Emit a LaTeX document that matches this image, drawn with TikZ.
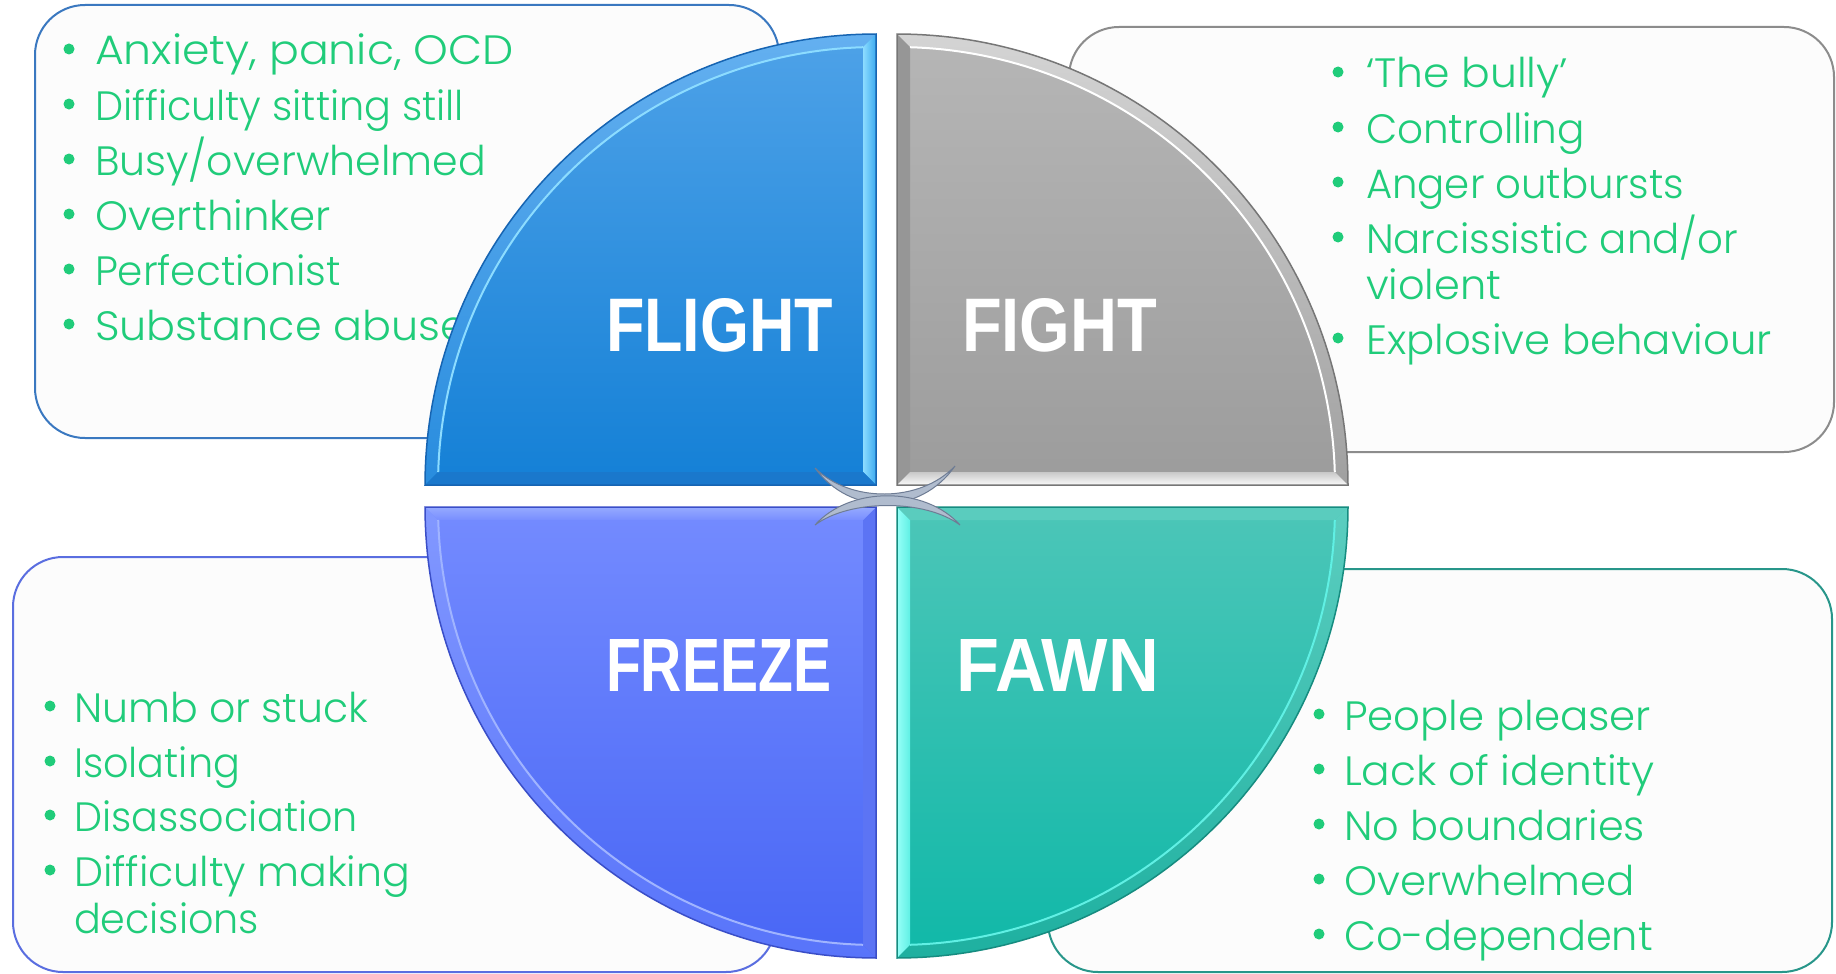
\documentclass[tikz,border=0pt]{standalone}
\usepackage{fontspec}
\usepackage{graphicx}
\setmainfont{Poppins}[UprightFont={* Light}]
\newfontfamily\titlefont{Liberation Sans}
\definecolor{txtgreen}{RGB}{32,204,122}
\definecolor{boxfill}{RGB}{252,252,252}
\definecolor{flA}{RGB}{78,162,232}
\definecolor{flB}{RGB}{20,128,214}
\definecolor{flArcA}{RGB}{100,176,240}
\definecolor{flArcB}{RGB}{40,140,222}
\definecolor{flV}{RGB}{60,170,240}
\definecolor{flH}{RGB}{26,120,204}
\definecolor{flEdge}{RGB}{22,100,178}
\definecolor{flHi}{RGB}{140,220,255}
\definecolor{flBox}{RGB}{58,120,192}
\definecolor{fiA}{RGB}{182,182,182}
\definecolor{fiB}{RGB}{156,156,156}
\definecolor{fiArcA}{RGB}{212,212,212}
\definecolor{fiArcB}{RGB}{160,160,160}
\definecolor{fiV}{RGB}{150,150,150}
\definecolor{fiHA}{RGB}{200,200,200}
\definecolor{fiHB}{RGB}{250,250,250}
\definecolor{fiEdge}{RGB}{118,118,118}
\definecolor{fiBox}{RGB}{140,140,140}
\definecolor{frA}{RGB}{116,139,255}
\definecolor{frB}{RGB}{72,102,245}
\definecolor{frArcA}{RGB}{130,152,255}
\definecolor{frArcB}{RGB}{88,116,250}
\definecolor{frV}{RGB}{92,116,244}
\definecolor{frHA}{RGB}{150,170,255}
\definecolor{frHB}{RGB}{120,142,255}
\definecolor{frHi}{RGB}{160,180,255}
\definecolor{frEdge}{RGB}{58,78,200}
\definecolor{frBox}{RGB}{90,110,224}
\definecolor{faA}{RGB}{76,198,184}
\definecolor{faB}{RGB}{16,184,168}
\definecolor{faArcA}{RGB}{92,206,192}
\definecolor{faArcB}{RGB}{30,176,160}
\definecolor{faVA}{RGB}{150,255,248}
\definecolor{faH}{RGB}{90,204,190}
\definecolor{faEdge}{RGB}{22,140,128}
\definecolor{faHi}{RGB}{96,240,228}
\definecolor{faBox}{RGB}{40,150,138}
\definecolor{knot}{RGB}{176,188,206}
\definecolor{knotEdge}{RGB}{110,124,148}
% quadrant path pieces: #1 cx, #2 cy, #3 sx, #4 sy
\newcommand\qouter[4]{(#1,#2) -- plot[domain=0:90,samples=80] ({#1+(#3)*451*cos(\x)},{#2+(#4)*451*sin(\x)}) -- cycle}
\newcommand\qhband[4]{(#1,#2) -- ({#1+(#3)*451},#2) -- ({#1+(#3)*437.8},{#2+(#4)*13}) -- ({#1+(#3)*13},{#2+(#4)*13}) -- cycle}
\newcommand\qvband[4]{(#1,#2) -- (#1,{#2+(#4)*451}) -- ({#1+(#3)*13},{#2+(#4)*437.8}) -- ({#1+(#3)*13},{#2+(#4)*13}) -- cycle}
\newcommand\qaband[4]{plot[domain=0:90,samples=80] ({#1+(#3)*451*cos(\x)},{#2+(#4)*451*sin(\x)}) -- plot[domain=88.3:1.7,samples=80] ({#1+(#3)*438*cos(\x)},{#2+(#4)*438*sin(\x)}) -- cycle}
\newcommand\qinarc[4]{plot[domain=1.7:88.3,samples=80] ({#1+(#3)*438*cos(\x)},{#2+(#4)*438*sin(\x)})}
\begin{document}
\begin{tikzpicture}[x=1pt,y=-1pt,
  textbox/.style={rounded corners=50pt, line width=2pt, fill=boxfill},
  lst/.style={inner sep=0pt, outer sep=0pt, text=txtgreen, font=\fontsize{41}{41}\selectfont},
  ttl/.style={inner sep=0pt, outer sep=0pt, text=white, font=\titlefont\bfseries},
  dot/.style={fill=txtgreen}]
\useasboundingbox (0,0) rectangle (1836,974);
\fill[white] (0,0) rectangle (1836,974);

% text boxes
\draw[textbox, draw=flBox] (35,5) rectangle (779,438);
\draw[textbox, draw=fiBox] (1069,27) rectangle (1834,452);
\draw[textbox, draw=frBox] (13,557) rectangle (776,972);
\draw[textbox, draw=faBox] (1048,569) rectangle (1832,972);

% FLIGHT list
\foreach \yy in {65,120,175,230,285,340} \fill[dot] (69,\yy-16) circle[radius=5.5pt];
\node[lst, anchor=base west] (fl1) at (95,65) {\resizebox{419pt}{\height}{Anxiety, panic, OCD}};
\node[lst, anchor=base west] (fl2) at (95,120) {\resizebox{369pt}{\height}{Difficulty sitting still}};
\node[lst, anchor=base west] (fl3) at (95,175) {\resizebox{391pt}{\height}{Busy/overwhelmed}};
\node[lst, anchor=base west] (fl4) at (95,230) {\resizebox{236pt}{\height}{Overthinker}};
\node[lst, anchor=base west] (fl5) at (95,285) {\resizebox{246pt}{\height}{Perfectionist}};
\node[lst, anchor=base west] (fl6) at (95,340) {\resizebox{372pt}{\height}{Substance abuse}};

% FIGHT list
\foreach \yy in {88,143,198,253,354} \fill[dot] (1338,\yy-16) circle[radius=5.5pt];
\node[lst, anchor=base west] (fi1) at (1366,88) {\resizebox{202pt}{\height}{‘The bully’}};
\node[lst, anchor=base west] (fi2) at (1366,143) {\resizebox{219pt}{\height}{Controlling}};
\node[lst, anchor=base west] (fi3) at (1366,198) {\resizebox{318pt}{\height}{Anger outbursts}};
\node[lst, anchor=base west] (fi4) at (1366,253) {\resizebox{372pt}{\height}{Narcissistic and/or}};
\node[lst, anchor=base west] (fi5) at (1366,299) {\resizebox{135pt}{\height}{violent}};
\node[lst, anchor=base west] (fi6) at (1366,354) {\resizebox{406pt}{\height}{Explosive behaviour}};

% FREEZE list
\foreach \yy in {722,777,831,886} \fill[dot] (50,\yy-16) circle[radius=5.5pt];
\node[lst, anchor=base west] (fr1) at (74,722) {\resizebox{294pt}{\height}{Numb or stuck}};
\node[lst, anchor=base west] (fr2) at (74,777) {\resizebox{166pt}{\height}{Isolating}};
\node[lst, anchor=base west] (fr3) at (74,831) {\resizebox{284pt}{\height}{Disassociation}};
\node[lst, anchor=base west] (fr4) at (74,886) {\resizebox{336pt}{\height}{Difficulty making}};
\node[lst, anchor=base west] (fr5) at (74,933) {\resizebox{185pt}{\height}{decisions}};

% FAWN list
\foreach \yy in {730,785,840,895,950} \fill[dot] (1319,\yy-16) circle[radius=5.5pt];
\node[lst, anchor=base west] (fa1) at (1344,730) {\resizebox{307pt}{\height}{People pleaser}};
\node[lst, anchor=base west] (fa2) at (1344,785) {\resizebox{311pt}{\height}{Lack of identity}};
\node[lst, anchor=base west] (fa3) at (1344,840) {\resizebox{301pt}{\height}{No boundaries}};
\node[lst, anchor=base west] (fa4) at (1344,895) {\resizebox{291pt}{\height}{Overwhelmed}};
\node[lst, anchor=base west] (fa5) at (1344,950) {\resizebox{309pt}{\height}{Co-dependent}};

% ---- FLIGHT quadrant
\shade[top color=flA, bottom color=flB] \qouter{876}{485}{-1}{-1};
\shade[top color=flArcA, bottom color=flArcB] \qaband{876}{485}{-1}{-1};
\shade[left color=flHi, right color=flV] \qvband{876}{485}{-1}{-1};
\fill[flH] \qhband{876}{485}{-1}{-1};
\draw[flHi, line width=2pt] \qinarc{876}{485}{-1}{-1};
\draw[flEdge, line width=1.5pt] \qouter{876}{485}{-1}{-1};

% ---- FIGHT quadrant
\shade[top color=fiA, bottom color=fiB] \qouter{897}{485}{1}{-1};
\shade[top color=fiArcA, bottom color=fiArcB] \qaband{897}{485}{1}{-1};
\fill[fiV] \qvband{897}{485}{1}{-1};
\shade[top color=fiHA, bottom color=fiHB] \qhband{897}{485}{1}{-1};
\draw[white, line width=2pt] \qinarc{897}{485}{1}{-1};
\draw[fiEdge, line width=1.5pt] \qouter{897}{485}{1}{-1};

% ---- FREEZE quadrant
\shade[top color=frA, bottom color=frB] \qouter{876}{507}{-1}{1};
\shade[top color=frArcA, bottom color=frArcB] \qaband{876}{507}{-1}{1};
\fill[frV] \qvband{876}{507}{-1}{1};
\shade[top color=frHA, bottom color=frHB] \qhband{876}{507}{-1}{1};
\draw[frHi, line width=2pt] \qinarc{876}{507}{-1}{1};
\draw[frEdge, line width=1.5pt] \qouter{876}{507}{-1}{1};

% ---- FAWN quadrant
\shade[top color=faA, bottom color=faB] \qouter{897}{507}{1}{1};
\shade[top color=faArcA, bottom color=faArcB] \qaband{897}{507}{1}{1};
\shade[left color=faVA, right color=faHi] \qvband{897}{507}{1}{1};
\fill[faH] \qhband{897}{507}{1}{1};
\draw[faHi, line width=2pt] \qinarc{897}{507}{1}{1};
\draw[faEdge, line width=1.5pt] \qouter{897}{507}{1}{1};

% titles
\node[ttl, anchor=base west] (tFlight) at (606,351) {\resizebox{227pt}{53pt}{FLIGHT}};
\node[ttl, anchor=base west] (tFight) at (962,351) {\resizebox{195pt}{53pt}{FIGHT}};
\node[ttl, anchor=base west] (tFreeze) at (606,691) {\resizebox{225pt}{52pt}{FREEZE}};
\node[ttl, anchor=base west] (tFawn) at (956,691) {\resizebox{203pt}{52pt}{FAWN}};

% central counterbalance symbol
\filldraw[fill=knot, draw=knotEdge, line width=1pt]
  (815,468) .. controls (850,516) and (920,516) .. (955,466)
  .. controls (920,503) and (850,503) .. cycle;
\filldraw[fill=knot, draw=knotEdge, line width=1pt]
  (815,525) .. controls (850,486) and (925,486) .. (960,525)
  .. controls (925,499) and (850,499) .. cycle;
\end{tikzpicture}
\end{document}
